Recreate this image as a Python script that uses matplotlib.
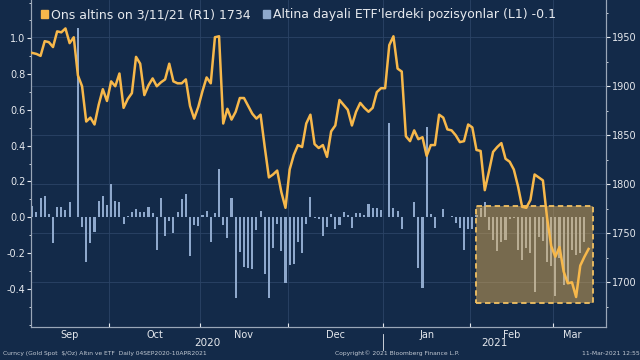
import numpy as np
import pandas as pd
import matplotlib
matplotlib.use("Agg")
import matplotlib.pyplot as plt
import matplotlib.transforms as mtransforms
from matplotlib.patches import Patch, Rectangle

# daily trading days shown on the chart
dates = pd.bdate_range("2020-09-04", "2021-03-11")

# gold spot, $/oz (right axis)
gold = [1934, 1933, 1931, 1946, 1945, 1940, 1956, 1955, 1959, 1944,
        1950, 1911, 1900, 1864, 1868, 1861, 1881, 1897, 1885, 1905,
        1900, 1913, 1878, 1887, 1893, 1930, 1923, 1891, 1901, 1908,
        1900, 1904, 1907, 1923, 1905, 1903, 1903, 1907, 1880, 1867,
        1879, 1895, 1909, 1903, 1950, 1951, 1862, 1877, 1866, 1874,
        1888, 1888, 1880, 1872, 1867, 1871, 1838, 1807, 1810, 1814,
        1792, 1776, 1815, 1830, 1840, 1838, 1862, 1871, 1841, 1837,
        1840, 1828, 1854, 1860, 1886, 1881, 1876, 1860, 1874, 1883,
        1878, 1874, 1878, 1894, 1898, 1898, 1942, 1951, 1918, 1915,
        1849, 1844, 1855, 1846, 1848, 1829, 1840, 1840, 1871, 1868,
        1856, 1855, 1850, 1843, 1844, 1861, 1858, 1835, 1834, 1794,
        1813, 1833, 1838, 1842, 1826, 1823, 1815, 1798, 1777, 1776,
        1784, 1810, 1807, 1804, 1766, 1737, 1726, 1736, 1711, 1699,
        1700, 1685, 1717, 1726, 1734]

# change in gold ETF holdings (left axis), no value yet for the last day
etf = [0.063, 0.032, 0.106, 0.121, 0.019, -0.141, 0.056, 0.056, 0.041, 0.088,
       0.004, 1.056, -0.052, -0.251, -0.141, -0.082, 0.091, 0.119, 0.069, 0.186,
       0.091, 0.088, -0.037, 0.005, 0.032, 0.047, 0.032, 0.032, 0.056, 0.022,
       -0.183, 0.106, -0.104, -0.019, -0.089, 0.032, 0.102, 0.130, -0.216, -0.043,
       -0.048, 0.013, 0.037, -0.136, 0.022, 0.268, -0.045, -0.117, 0.106, -0.453,
       -0.192, -0.279, -0.285, -0.291, -0.071, 0.035, -0.317, -0.453, -0.173, -0.037,
       -0.186, -0.369, -0.266, -0.261, -0.136, -0.201, -0.037, 0.112, -0.006, -0.011,
       -0.104, -0.052, 0.019, -0.067, -0.043, 0.032, 0.013, -0.061, 0.022, 0.026,
       0.013, 0.073, 0.050, 0.050, 0.041, 0.004, 0.525, 0.050, 0.037, -0.067,
       0.004, 0.004, 0.084, -0.285, -0.397, 0.506, 0.017, -0.061, 0.004, 0.045,
       0.004, 0.007, -0.034, -0.061, -0.183, -0.067, -0.067, 0.010, 0.050, 0.087,
       -0.070, -0.125, -0.187, -0.136, -0.127, -0.010, -0.003, -0.180, -0.240, -0.170,
       -0.200, -0.420, -0.110, -0.130, -0.250, -0.270, -0.440, -0.230, -0.380, -0.370,
       -0.180, -0.210, -0.200, -0.140]

month_names = ["Sep", "Oct", "Nov", "Dec", "Jan", "Feb", "Mar"]
years = ["2020", "2021"]
legend_gold = "Ons altins on 3/11/21 (R1) 1734"
legend_etf = "Altina dayali ETF'lerdeki pozisyonlar (L1) -0.1"

BG = "#132a49"
TXT = "#e6e9ee"
GRID = "#2b4466"
GOLD = "#f7b84b"
BAR = "#8ea8cc"

plt.rcParams["font.family"] = ["DejaVu Sans"]

x = np.arange(len(dates))
xlo, xhi = -0.3, 138.2

fig = plt.figure(figsize=(6.4, 3.6), dpi=100, facecolor=BG)
ax = fig.add_axes([31 / 640, 1 - 327 / 360, 575 / 640, 327 / 360], facecolor=BG)
ax2 = ax.twinx()

ax.bar(x[:len(etf)], etf, width=0.5, color=BAR, zorder=2)
ax2.plot(x, gold, color=GOLD, lw=1.8, zorder=5)

ax.set_xlim(xlo, xhi)
ax.set_ylim(-0.613, 1.214)
ax2.set_ylim(1654.4, 1988)

# month boundaries
starts = [i for i in range(1, len(dates)) if dates[i].month != dates[i - 1].month]
bounds = [s - 0.5 for s in starts]
edges = [xlo] + bounds + [len(dates) - 0.5]
centers = [(a + b) / 2 for a, b in zip(edges[:-1], edges[1:])]

ax.set_xticks(bounds)
ax.set_xticklabels([])
ax.tick_params(axis="x", which="major", direction="in", length=3, color=TXT)
ax.set_xticks(centers, minor=True)
ax.set_xticklabels(month_names, minor=True)
ax.tick_params(axis="x", which="minor", length=0, labelsize=7, labelcolor=TXT, pad=2)
for b in bounds:
    ax.axvline(b, color=GRID, lw=0.6, zorder=0)

# year labels and separator
jan = bounds[month_names.index("Jan") - 1]
trans_x = mtransforms.blended_transform_factory(ax.transData, ax.transAxes)
ax.text((xlo + jan) / 2, -0.05, years[0], transform=trans_x, ha="center",
        va="center", fontsize=7.5, color=TXT)
ax.text((jan + xhi) / 2, -0.05, years[1], transform=trans_x, ha="center",
        va="center", fontsize=7.5, color=TXT)
ax.plot([jan, jan], [-0.02, -0.07], transform=trans_x, color=TXT, lw=0.6,
        clip_on=False)

# left axis
ax.set_yticks(np.arange(-0.4, 1.01, 0.2))
ax.set_yticklabels(["%.1f" % v for v in np.arange(-0.4, 1.01, 0.2)])
ax.set_yticks(np.arange(-0.6, 1.21, 0.1), minor=True)
ax.tick_params(axis="y", which="major", direction="out", length=3, color=TXT,
               labelsize=7, labelcolor=TXT, pad=1)
ax.tick_params(axis="y", which="minor", direction="out", length=1.5, color=TXT)

# right axis
ax2.set_yticks(np.arange(1700, 1951, 50))
ax2.set_yticks(np.arange(1675, 1976, 25), minor=True)
ax2.tick_params(axis="y", which="major", direction="out", length=3, color=TXT,
                labelsize=7, labelcolor=TXT, pad=1)
ax2.tick_params(axis="y", which="minor", direction="out", length=1.5, color=TXT)

# horizontal grid follows right axis ticks, drawn under the bars
trans_y = mtransforms.blended_transform_factory(ax.transAxes, ax2.transData)
for v in np.arange(1700, 1951, 50):
    ax.plot([0, 1], [v, v], transform=trans_y, color=GRID, lw=0.6, zorder=0)

for a in (ax, ax2):
    a.spines["top"].set_visible(False)
    for s in ("left", "right", "bottom"):
        a.spines[s].set_color("#9aa7b8")
        a.spines[s].set_linewidth(0.8)

# highlight box
box = Rectangle((106.9, -0.479), 28.2, 0.542, facecolor="#eab454", alpha=0.47,
                edgecolor="none", zorder=3)
ax.add_patch(box)
ax.add_patch(Rectangle((106.9, -0.479), 28.2, 0.542, facecolor="none",
                       edgecolor="#f2c163", lw=1.3, ls=(0, (3, 2)), zorder=4))

handles = [Patch(color=GOLD), Patch(color=BAR)]
fig.legend(handles, [legend_gold, legend_etf], loc="upper left",
           bbox_to_anchor=(0.052, 0.998), ncol=2, frameon=False, fontsize=9,
           labelcolor=TXT, handlelength=0.55, handleheight=0.55,
           handletextpad=0.25, columnspacing=1.0, borderaxespad=0.2)

fig.text(0.004, 0.014, "Curncy (Gold Spot  $/Oz) Altın ve ETF  Daily 04SEP2020-10APR2021",
         fontsize=4.3, color="#c3cad4")
fig.text(0.523, 0.014, "Copyright\u00a9 2021 Bloomberg Finance L.P.", fontsize=4.3,
         color="#c3cad4")
fig.text(0.999, 0.014, "11-Mar-2021 12:55", fontsize=4.3, color="#c3cad4", ha="right")

fig.savefig("out.png", dpi=100, facecolor=BG)
